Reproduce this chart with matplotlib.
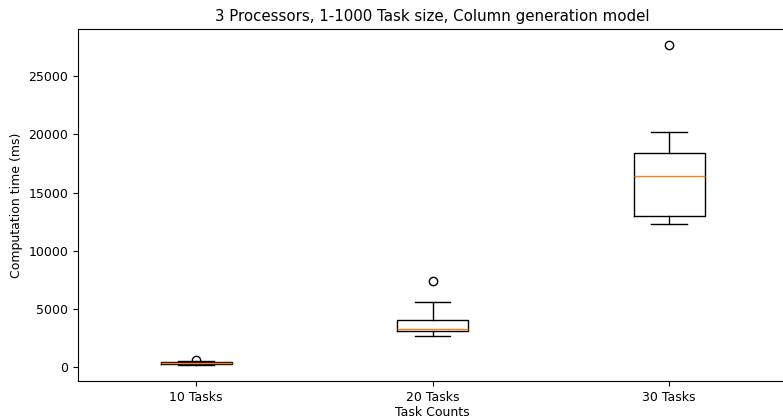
import matplotlib
matplotlib.use("Agg")
import matplotlib.pyplot as plt

# box statistics (ms)
labels = ["10 Tasks", "20 Tasks", "30 Tasks"]
whislo = [150, 2680, 12280]
q1 = [250, 3050, 12950]
med = [310, 3260, 16460]
q3 = [420, 4065, 18425]
whishi = [480, 5600, 20250]
fliers = [[600], [7350], [27700]]

stats = []
for i in range(len(labels)):
    stats.append(dict(label=labels[i], whislo=whislo[i], q1=q1[i], med=med[i],
                      q3=q3[i], whishi=whishi[i], fliers=fliers[i]))

fig = plt.figure(figsize=(7.83, 4.19), dpi=100)
ax = fig.add_axes([0.0996, 0.0907, 0.906, 0.840])
ax.bxp(stats)
ax.set_title("3 Processors, 1-1000 Task size, Column generation model", fontsize=10.8)
ax.set_xlabel("Task Counts", fontsize=9, labelpad=2)
ax.set_ylabel("Computation time (ms)", fontsize=9)
ax.tick_params(labelsize=9)

fig.savefig("out.png", dpi=100)
